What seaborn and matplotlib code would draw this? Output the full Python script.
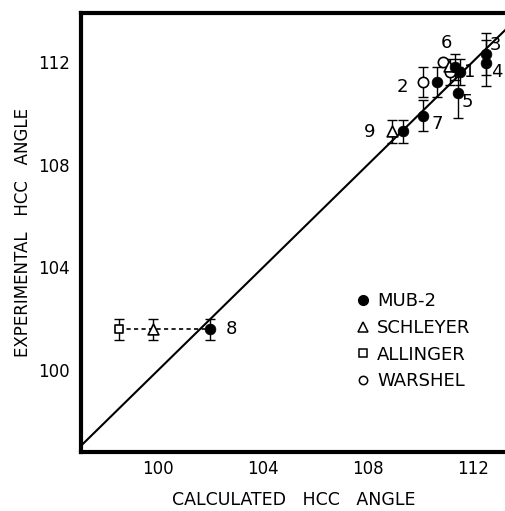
import matplotlib
matplotlib.use('Agg')
import matplotlib.pyplot as plt
from matplotlib.lines import Line2D
import seaborn as sns

# MUB-2 (filled circles) -- calculated vs experimental HCC angle
mub_x = [111.5, 110.63, 112.5, 112.5, 111.43, 111.3, 110.1, 102.0, 109.33]
mub_y = [111.6, 111.2, 112.3, 111.95, 110.8, 111.8, 109.9, 101.6, 109.3]
mub_err = [0.5, 0.58, 0.8, 0.9, 1.0, 0.5, 0.6, 0.4, 0.45]

# Schleyer (open triangles)
sch_x = [108.9, 99.8, 111.1]
sch_y = [109.3, 101.6, 111.85]
sch_err = [0.45, 0.4, 0.0]

# Allinger (open squares)
all_x = [98.5]
all_y = [101.6]
all_err = [0.4]

# Warshel (open circles)
war_x = [110.1, 110.86, 111.12]
war_y = [111.2, 112.0, 111.6]
war_err = [0.58, 0.0, 0.5]

# point labels
lab_text = ['1', '2', '3', '4', '5', '6', '7', '8', '9']
lab_x = [111.89, 109.3, 112.84, 112.9, 111.8, 111.0, 110.63, 102.8, 108.08]
lab_y = [111.61, 111.0, 112.66, 111.6, 110.45, 112.73, 109.57, 101.6, 109.26]

sns.set_style('white')
plt.rcParams['font.family'] = ['DejaVu Sans']
plt.rcParams['text.color'] = 'black'
plt.rcParams['axes.labelcolor'] = 'black'

fig = plt.figure(figsize=(5.06, 5.11), dpi=100)
ax = fig.add_axes([0.160, 0.1155, 0.84, 0.859])

ax.set_xlim(97.07, 113.26)
ax.set_ylim(96.83, 113.89)

# y = x reference line
ax.plot([96, 115], [96, 115], color='black', lw=1.5, zorder=1)

# dashed connector for molecule 8
ax.plot([all_x[0], mub_x[7]], [all_y[0], mub_y[7]], color='black', lw=1.2,
        ls=(0, (2.5, 2)), zorder=1)

ekw = dict(fmt='none', ecolor='black', elinewidth=1.0, capsize=3.5, capthick=1.0, zorder=2)
for xs, ys, es in [(mub_x, mub_y, mub_err), (sch_x, sch_y, sch_err),
                   (all_x, all_y, all_err), (war_x, war_y, war_err)]:
    keep = [i for i, e in enumerate(es) if e > 0]
    ax.errorbar([xs[i] for i in keep], [ys[i] for i in keep],
                yerr=[es[i] for i in keep], **ekw)

sns.scatterplot(x=war_x, y=war_y, marker='o', s=55, color='white',
                edgecolor='black', linewidth=1.2, ax=ax, zorder=3)
sns.scatterplot(x=sch_x, y=sch_y, marker='^', s=60, color='white',
                edgecolor='black', linewidth=1.2, ax=ax, zorder=3)
sns.scatterplot(x=all_x, y=all_y, marker='s', s=40, color='white',
                edgecolor='black', linewidth=1.2, ax=ax, zorder=3)
sns.scatterplot(x=mub_x, y=mub_y, marker='o', s=60, color='black',
                edgecolor='black', linewidth=0.5, ax=ax, zorder=4)

for t, x, y in zip(lab_text, lab_x, lab_y):
    ax.text(x, y, t, fontsize=13, ha='center', va='center', color='black')

handles = [
    Line2D([], [], ls='none', marker='o', ms=7, mfc='black', mec='black'),
    Line2D([], [], ls='none', marker='^', ms=7, mfc='white', mec='black', mew=1.1),
    Line2D([], [], ls='none', marker='s', ms=5.5, mfc='white', mec='black', mew=1.1),
    Line2D([], [], ls='none', marker='o', ms=6, mfc='white', mec='black', mew=1.1),
]
ax.legend(handles, ['MUB-2', 'SCHLEYER', 'ALLINGER', 'WARSHEL'],
          loc='upper left', bbox_to_anchor=(0.623, 0.38), frameon=False,
          fontsize=13, handletextpad=0.25, labelspacing=0.48, handlelength=1.1,
          borderaxespad=0, labelcolor='black')

ax.set_xticks([100, 104, 108, 112])
ax.set_yticks([100, 104, 108, 112])
ax.tick_params(direction='in', length=10, width=1.0, labelsize=12, colors='black')
ax.tick_params(axis='x', pad=6)
ax.tick_params(axis='y', pad=8)
for s in ['left', 'bottom', 'top']:
    ax.spines[s].set_linewidth(3)
    ax.spines[s].set_color('black')
ax.spines['right'].set_visible(False)

ax.set_xlabel('CALCULATED   HCC   ANGLE', fontsize=12.5, labelpad=9)
ax.set_ylabel('EXPERIMENTAL   HCC   ANGLE', fontsize=12, labelpad=4)

fig.savefig('out.png', dpi=100)
